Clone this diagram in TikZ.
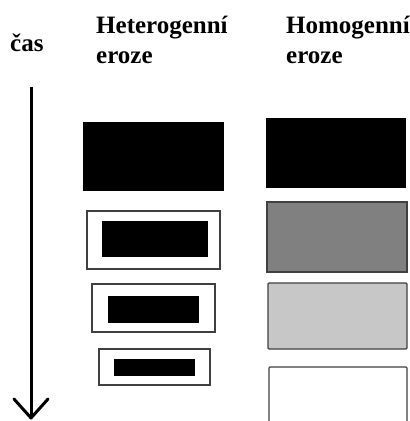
\documentclass[tikz,border=0pt]{standalone}
\usepackage{fontspec}
\setmainfont{Liberation Serif}
\begin{document}
\begin{tikzpicture}[x=1pt,y=-1pt,
  head/.style={anchor=base west,inner sep=0pt,font=\fontsize{25}{30}\selectfont\bfseries},
  core/.style={fill=black},
  frame/.style={draw=black!75,line width=1.3pt,fill=white},
  slab/.style={draw=black!75,line width=1.4pt},
  timeline/.style={line width=3pt}]
\clip (0,0) rectangle (410,421);
\fill[white] (0,0) rectangle (410,421);

% column headings
\node[head] (cas) at (10,51) {čas};
\node[head] (het1) at (96,33) {Heterogenní};
\node[head] (het2) at (96,63) {eroze};
\node[head] (hom1) at (286,33) {Homogenní};
\node[head] (hom2) at (286,63) {eroze};

% time axis
\coordinate (ttop) at (31,87);
\coordinate (tbot) at (31,418);
\draw[timeline] (ttop) -- (tbot);
\draw[timeline,line join=round,line cap=round] (14,399) -- (tbot) -- (48,399);

% heterogeneous erosion: shrinking core inside the original outline
\fill[core] (83,122) rectangle (224,191);
\draw[frame] (87,211) rectangle (220,269);
\fill[core] (102,221) rectangle (208,257);
\draw[frame] (92,284) rectangle (215,332);
\fill[core] (108,296) rectangle (199,323);
\draw[frame] (99,349) rectangle (210,385);
\fill[core] (114,359) rectangle (195,376);

% homogeneous erosion: whole body fades
\fill[black] (266,118) rectangle (406,188);
\draw[slab,fill=black!50] (267,202) rectangle (407,272);
\draw[slab,fill=black!22,rounded corners=1pt] (268,283) rectangle (407,349);
\draw[slab,fill=white,rounded corners=1pt] (269,367) rectangle (407,430);
\end{tikzpicture}
\end{document}
